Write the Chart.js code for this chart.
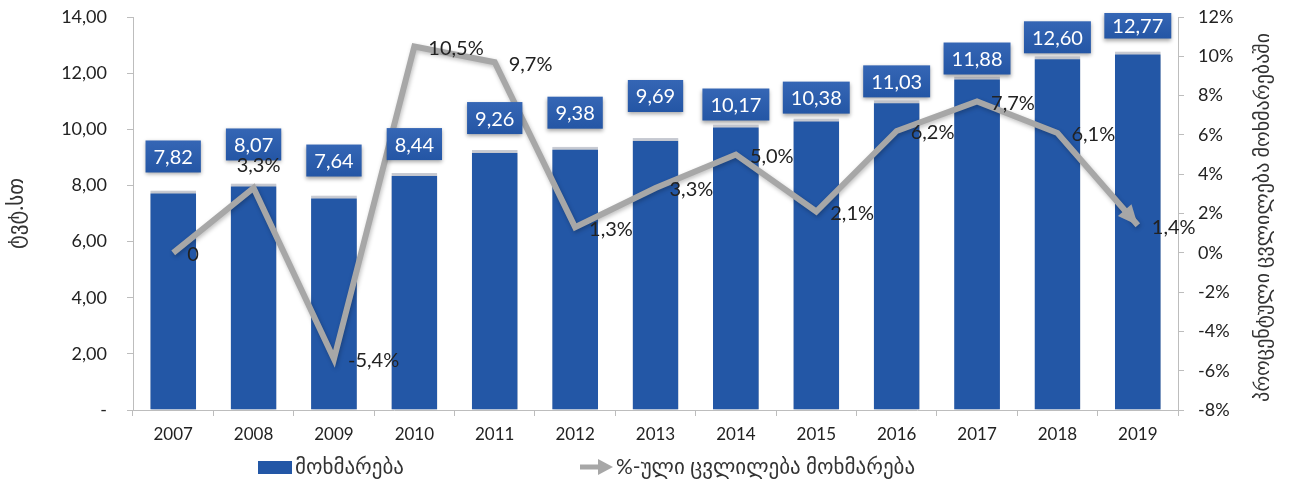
<!DOCTYPE html>
<html>
<head>
<meta charset="utf-8">
<script src="https://cdn.jsdelivr.net/npm/chart.js@4/dist/chart.umd.min.js"></script>
<style>
  html, body { margin: 0; padding: 0; background: #fff; }
  #wrap { width: 1289px; height: 484px; position: relative; }
</style>
</head>
<body>
<div id="wrap"><canvas id="myChart"></canvas></div>
<script>
// years and yearly values
var years = ['2007','2008','2009','2010','2011','2012','2013','2014','2015','2016','2017','2018','2019'];
var consumption = [7.82, 8.07, 7.64, 8.44, 9.26, 9.38, 9.69, 10.17, 10.38, 11.03, 11.88, 12.60, 12.77];
var changePct = [0, 3.3, -5.4, 10.5, 9.7, 1.3, 3.3, 5.0, 2.1, 6.2, 7.7, 6.1, 1.4];

var leftTitle = 'ტვტ.სთ';
var rightTitle = 'პროცენტული ცვლილება მოხმარებაში';
var barLegend = 'მოხმარება';
var lineLegend = '%-ული ცვლილება მოხმარება';

var FONT = "Lato, 'DejaVu Sans', sans-serif";
var BLUE = '#2357a6';
var GREY = '#a7a7a7';

// gap in px between each bar top and its value box (hand placed labels)
var boxGap = [18, 23, 19, 13, 16, 18, 26, 4, 5, 3, 2, 3, 13];

function comma(v, d) {
	return v.toFixed(d).replace('.', ',');
}

// vertical axes: fixed width, no extra top/bottom padding
function fixWidth(w) {
	return function(s) {
		s.width = w;
		s.paddingTop = 0;
		s.paddingBottom = 0;
	};
}

// blue boxes above the bars, percent labels next to the line, arrow, legend
var decorations = {
	id: 'decorations',
	beforeDatasetDraw: function(chart, args) {
		var ctx = chart.ctx;
		ctx.save();
		ctx.shadowColor = 'rgba(0,0,0,0.25)';
		ctx.shadowBlur = 4;
		ctx.shadowOffsetX = 1;
		ctx.shadowOffsetY = 2;
	},
	afterDatasetDraw: function(chart, args) {
		chart.ctx.restore();
	},
	afterDraw: function(chart) {
		var ctx = chart.ctx;
		var area = chart.chartArea;

		// value boxes over the bars
		var bars = chart.getDatasetMeta(0).data;
		ctx.save();
		ctx.font = '20px ' + FONT;
		ctx.textAlign = 'center';
		ctx.textBaseline = 'middle';
		bars.forEach(function(bar, i) {
			var txt = comma(consumption[i], 2);
			var w = ctx.measureText(txt).width + 16;
			var bottom = bar.y - boxGap[i];
			var top = Math.max(bottom - 32, area.top - 4);
			var h = bottom - top;
			ctx.save();
			ctx.shadowColor = 'rgba(0,0,0,0.35)';
			ctx.shadowBlur = 4;
			ctx.shadowOffsetY = 2;
			var g = ctx.createLinearGradient(0, top, 0, top + h);
			g.addColorStop(0, '#3566b5');
			g.addColorStop(1, '#2456a5');
			ctx.fillStyle = g;
			ctx.fillRect(bar.x - w / 2, top, w, h);
			ctx.restore();
			ctx.fillStyle = '#ffffff';
			ctx.fillText(txt, bar.x, top + h / 2 + 1);
		});
		ctx.restore();

		// arrow head at the last point of the line
		var pts = chart.getDatasetMeta(1).data;
		var a = pts[pts.length - 2], b = pts[pts.length - 1];
		var ang = Math.atan2(b.y - a.y, b.x - a.x);
		ctx.save();
		ctx.fillStyle = GREY;
		ctx.translate(b.x, b.y);
		ctx.rotate(ang);
		ctx.beginPath();
		ctx.moveTo(0, 0);
		ctx.lineTo(-20, -9);
		ctx.lineTo(-20, 9);
		ctx.closePath();
		ctx.fill();
		ctx.restore();

		// percent labels
		ctx.save();
		ctx.font = '20px ' + FONT;
		ctx.fillStyle = '#222';
		ctx.textBaseline = 'middle';
		pts.forEach(function(p, i) {
			var v = changePct[i];
			var txt = v === 0 ? '0' : comma(v, 1) + '%';
			if (i === 1) {
				ctx.textAlign = 'center';
				ctx.fillText(txt, p.x + 5, p.y - 22);
			} else {
				ctx.textAlign = 'left';
				ctx.fillText(txt, p.x + 14, p.y + 2);
			}
		});
		ctx.restore();

		// right axis title, read bottom to top
		ctx.save();
		ctx.font = '20px ' + FONT;
		ctx.fillStyle = '#333';
		ctx.textAlign = 'center';
		ctx.textBaseline = 'middle';
		ctx.translate(1263, (area.top + area.bottom) / 2 + 4);
		ctx.rotate(-Math.PI / 2);
		ctx.fillText(rightTitle, 0, 0);
		ctx.restore();

		// legend
		ctx.save();
		ctx.font = '21px ' + FONT;
		ctx.textBaseline = 'middle';
		ctx.textAlign = 'left';
		ctx.fillStyle = BLUE;
		ctx.fillRect(258, 461, 34, 13);
		ctx.fillStyle = '#333';
		ctx.fillText(barLegend, 295, 467);
		ctx.strokeStyle = GREY;
		ctx.lineWidth = 5;
		ctx.beginPath();
		ctx.moveTo(580, 467);
		ctx.lineTo(600, 467);
		ctx.stroke();
		ctx.fillStyle = GREY;
		ctx.beginPath();
		ctx.moveTo(613, 467);
		ctx.lineTo(598, 459);
		ctx.lineTo(598, 475);
		ctx.closePath();
		ctx.fill();
		ctx.fillStyle = '#333';
		ctx.fillText(lineLegend, 616, 467);
		ctx.restore();
	}
};

var ctx = document.getElementById('myChart');

var data = {
	labels: years,
	datasets: [
		{
			type: 'bar',
			label: barLegend,
			data: consumption,
			backgroundColor: BLUE,
			borderColor: '#c9ccd4',
			borderWidth: { top: 3, left: 0, right: 0, bottom: 0 },
			borderSkipped: 'bottom',
			yAxisID: 'y',
			categoryPercentage: 1,
			barPercentage: 0.57,
			order: 2
		},
		{
			type: 'line',
			label: lineLegend,
			data: changePct,
			borderColor: GREY,
			borderWidth: 6,
			pointRadius: 0,
			tension: 0,
			fill: false,
			yAxisID: 'y2',
			order: 1
		}
	]
};

var options = {
	responsive: true,
	maintainAspectRatio: false,
	animation: false,
	layout: { padding: { top: 17, left: 0, right: 0, bottom: 0 } },
	plugins: {
		legend: { display: false },
		tooltip: { enabled: false }
	},
	scales: {
		x: {
			offset: true,
			grid: {
				offset: true,
				drawOnChartArea: false,
				tickLength: 6,
				color: '#bdbdbd'
			},
			border: { color: '#bdbdbd' },
			ticks: {
				color: '#222',
				padding: 8,
				font: { size: 17, family: FONT }
			},
			afterFit: function(s) { s.height = 74; }
		},
		y: {
			position: 'left',
			min: 0,
			max: 14,
			grid: {
				drawOnChartArea: false,
				tickLength: 6,
				color: '#bdbdbd'
			},
			border: { color: '#bdbdbd' },
			ticks: {
				stepSize: 2,
				color: '#222',
				padding: 20,
				font: { size: 18, family: FONT },
				callback: function(v) { return v === 0 ? '-' : comma(v, 2); }
			},
			title: {
				display: true,
				text: leftTitle,
				color: '#333',
				font: { size: 21, family: FONT },
				padding: { top: 4, bottom: 0 }
			},
			afterFit: fixWidth(133)
		},
		y2: {
			position: 'right',
			min: -8,
			max: 12,
			grid: {
				drawOnChartArea: false,
				tickLength: 6,
				color: '#bdbdbd'
			},
			border: { color: '#bdbdbd' },
			ticks: {
				stepSize: 2,
				color: '#222',
				padding: 14,
				font: { size: 18, family: FONT },
				callback: function(v) { return v + '%'; }
			},
			afterFit: fixWidth(111)
		}
	}
};

var mychart = new Chart(ctx, {
	type: 'bar',
	data: data,
	options: options,
	plugins: [decorations]
});
</script>
</body>
</html>
